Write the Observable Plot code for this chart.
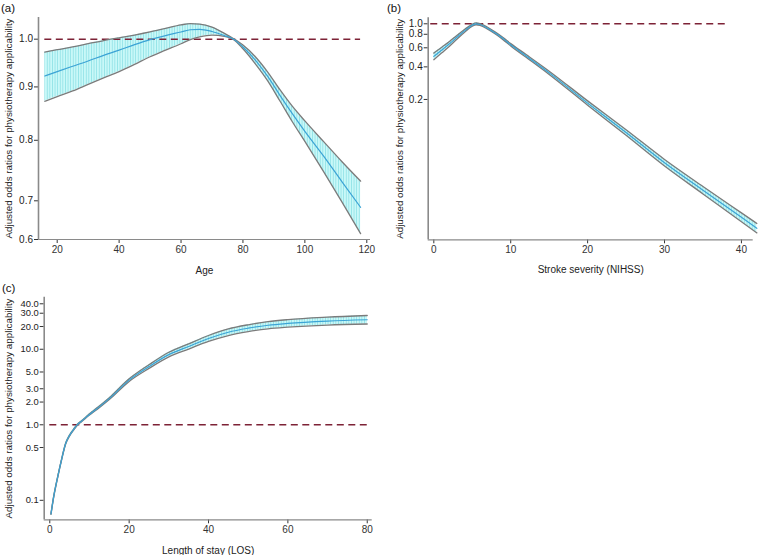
<!DOCTYPE html>
<html><head><meta charset="utf-8">
<script src="https://cdn.jsdelivr.net/npm/d3@7"></script>
<script src="https://cdn.jsdelivr.net/npm/@observablehq/plot@0.6"></script>
<style>
html,body{margin:0;padding:0;background:#fff;}
#wrap{position:relative;width:763px;height:555px;overflow:hidden;font-family:"Liberation Sans",Arial,sans-serif;}
.panel{position:absolute;}
.plab{position:absolute;font-size:11.5px;line-height:12px;color:#111;}
</style></head><body><div id="wrap"></div>
<script>
// ---------- Panel (a): Age ----------
const ageX  = [16,20,25,30,35,40,45,50,55,60,63,66,70,74,77,80,84,88,92,96,100,106,112,118];
const ageOR = [0.922,0.931,0.942,0.953,0.965,0.976,0.988,0.999,1.008,1.016,1.021,1.022,1.017,1.008,1.000,0.983,0.955,0.921,0.883,0.848,0.816,0.773,0.730,0.690];
const ageHi = [0.972,0.977,0.983,0.990,0.997,1.003,1.009,1.016,1.024,1.032,1.035,1.034,1.027,1.013,1.001,0.987,0.962,0.930,0.894,0.862,0.835,0.798,0.763,0.731];
const ageLo = [0.872,0.881,0.892,0.905,0.918,0.931,0.946,0.962,0.976,0.990,0.999,1.005,1.009,1.006,0.999,0.979,0.947,0.912,0.872,0.833,0.798,0.747,0.698,0.651];
const ageTicksX = [20,40,60,80,100,120];
const ageTicksY = [1.0,0.9,0.8,0.7,0.6427];
const ageTickLabelsY = ["1.0","0.9","0.8","0.7","0.6"];

// ---------- Panel (b): Stroke severity ----------
const nihssX  = [0,1,2,3,4,5,5.5,6,7,8,9,10,12,15,20,25,30,35,40,42];
const nihssOR = [0.50,0.57,0.65,0.75,0.86,0.97,1.0,0.985,0.91,0.82,0.73,0.64,0.505,0.352,0.185,0.099,0.052,0.029,0.0163,0.0129];
const nihssHi = [0.536,0.605,0.683,0.781,0.886,0.99,1.02,1.005,0.928,0.837,0.746,0.656,0.520,0.365,0.194,0.105,0.0558,0.0314,0.0179,0.0143];
const nihssLo = [0.466,0.537,0.618,0.721,0.835,0.951,0.98,0.966,0.892,0.804,0.714,0.624,0.490,0.340,0.177,0.0932,0.0485,0.0268,0.0148,0.0117];
const nihssTicksX = [0,10,20,30,40];
const nihssTicksY = [1.0,0.8,0.6,0.4,0.2];
const nihssTickLabelsY = ["1.0","0.8","0.6","0.4","0.2"];

// ---------- Panel (c): Length of stay ----------
const losX  = [0.3,1,2,3,4,5,6,7,8,10,12,15,20,25,30,35,40,45,50,55,60,70,80];
const losOR = [0.066,0.113,0.205,0.352,0.565,0.725,0.865,1.01,1.115,1.37,1.65,2.22,3.9,5.9,8.5,10.9,13.9,16.8,19.0,20.8,22.0,23.6,24.6];
const losHi = [0.067,0.115,0.208,0.357,0.574,0.736,0.878,1.025,1.132,1.398,1.692,2.288,4.06,6.23,9.12,11.81,15.21,18.57,21.10,23.22,24.68,26.61,28.0];
const losLo = [0.065,0.111,0.202,0.347,0.557,0.714,0.852,0.995,1.098,1.343,1.609,2.154,3.75,5.58,7.93,10.06,12.70,15.20,17.11,18.64,19.60,20.93,21.6];
const losTicksX = [0,20,40,60,80];
const losTicksY = [40,30,20,10,5,3,2,1,0.5,0.1];
const losTickLabelsY = ["40.0","30.0","20.0","10.0","5.0","3.0","2.0","1.0","0.5","0.1"];

const yTitle = "Adjusted odds ratios for physiotherapy applicability";

function addHatch(svg, id) {
  const ns = "http://www.w3.org/2000/svg";
  const defs = document.createElementNS(ns, "defs");
  const p = document.createElementNS(ns, "pattern");
  p.setAttribute("id", id);
  p.setAttribute("patternUnits", "userSpaceOnUse");
  p.setAttribute("width", "2.6");
  p.setAttribute("height", "10");
  const bg = document.createElementNS(ns, "rect");
  bg.setAttribute("width", "2.6"); bg.setAttribute("height", "10"); bg.setAttribute("fill", "#c9f8f8");
  const ln = document.createElementNS(ns, "rect");
  ln.setAttribute("width", "0.8"); ln.setAttribute("height", "10"); ln.setAttribute("fill", "#8fe2e6");
  p.appendChild(bg); p.appendChild(ln); defs.appendChild(p);
  svg.insertBefore(defs, svg.firstChild);
}

function panel(o) {
  const rows = o.xs.map((x, i) => ({x, mid: o.mid[i], hi: o.hi[i], lo: o.lo[i]}));
  const curve = "monotone-x";
  const svg = Plot.plot({
    width: o.width, height: o.height,
    marginLeft: o.ml, marginRight: o.mr, marginTop: o.mt, marginBottom: o.mb,
    style: {fontFamily: "'Liberation Sans', Arial, sans-serif", fontSize: "10px", color: "#333", background: "transparent", overflow: "visible"},
    x: {domain: o.xDomain, ticks: o.xTicks, tickSize: 4, tickPadding: 2, label: null, tickFormat: d => String(d)},
    y: {type: "log", domain: o.yDomain, ticks: o.yTicks, tickSize: 4, tickPadding: 1.5, label: null, tickFormat: () => ""},
    marks: [
      Plot.areaY(rows, {x: "x", y1: "lo", y2: "hi", fill: `url(#${o.id})`, curve}),
      Plot.ruleY([1], {x1: () => o.ref[0], x2: () => o.ref[1], stroke: "#7d2236", strokeWidth: 1.5, strokeDasharray: "7,4.5"}),
      Plot.line(rows, {x: "x", y: "hi", stroke: "#7b7b7b", strokeWidth: 1.3, curve}),
      Plot.line(rows, {x: "x", y: "lo", stroke: "#7b7b7b", strokeWidth: 1.3, curve}),
      Plot.line(rows, {x: "x", y: "mid", stroke: "#3ca3d5", strokeWidth: 1.2, curve}),
      Plot.ruleX([o.xDomain[0]], {stroke: "#8a8a8a", strokeWidth: 1.6}),
      Plot.ruleY([o.yDomain[0]], {stroke: "#8a8a8a", strokeWidth: 1.2}),
      Plot.text(o.yTicks, {y: d => d, text: (d, i) => o.yLabels[i], frameAnchor: "left", textAnchor: "end", lineAnchor: "middle", dx: -5.5, fontSize: o.yFont, fill: "#222"}),
      Plot.text([yTitle], {text: d => d, frameAnchor: "left", rotate: -90, dx: o.ytDx, lineAnchor: "middle", textAnchor: "middle", fontSize: 9.8, fill: "#222"}),
      Plot.text([o.xTitle], {text: d => d, frameAnchor: "bottom", dy: o.xtDy, lineAnchor: "middle", textAnchor: "middle", fontSize: 10, fill: "#222"})
    ]
  });
  addHatch(svg, o.id);
  const div = document.createElement("div");
  div.className = "panel";
  div.style.left = o.left + "px"; div.style.top = o.top + "px";
  div.appendChild(svg);
  document.getElementById("wrap").appendChild(div);
  const lab = document.createElement("div");
  lab.className = "plab";
  lab.textContent = o.tag;
  lab.style.left = o.tagX + "px"; lab.style.top = o.tagY + "px";
  document.getElementById("wrap").appendChild(lab);
}

panel({id: "hatchA", tag: "(a)", tagX: 1, tagY: 2, left: 0, top: 0, width: 380, height: 280,
  ml: 38, mr: 10, mt: 17, mb: 41,
  xs: ageX, mid: ageOR, hi: ageHi, lo: ageLo,
  xDomain: [13.96, 121.2], yDomain: [0.6427, 1.049],
  xTicks: ageTicksX, yTicks: ageTicksY, yLabels: ageTickLabelsY, yFont: 10,
  ref: [16, 118], xTitle: "Age", ytDx: -29.7, xtDy: 31});

panel({id: "hatchB", tag: "(b)", tagX: 387, tagY: 2, left: 380, top: 0, width: 383, height: 280,
  ml: 47.7, mr: 10.3, mt: 17.3, mb: 40.7,
  xs: nihssX, mid: nihssOR, hi: nihssHi, lo: nihssLo,
  xDomain: [-0.73, 41.53], yDomain: [0.0101, 1.136],
  xTicks: nihssTicksX, yTicks: nihssTicksY, yLabels: nihssTickLabelsY, yFont: 10,
  ref: [-0.4, 38], xTitle: "Stroke severity (NIHSS)", ytDx: -28.7, xtDy: 30});

panel({id: "hatchC", tag: "(c)", tagX: 2, tagY: 282, left: 0, top: 280, width: 400, height: 275,
  ml: 43.7, mr: 28.3, mt: 16.7, mb: 35.7,
  xs: losX, mid: losOR, hi: losHi, lo: losLo,
  xDomain: [-1.41, 81.25], yDomain: [0.0552, 48.9],
  xTicks: losTicksX, yTicks: losTicksY, yLabels: losTickLabelsY, yFont: 9.4,
  ref: [0, 80], xTitle: "Length of stay (LOS)", ytDx: -35.4, xtDy: 30.7});
</script></body></html>
